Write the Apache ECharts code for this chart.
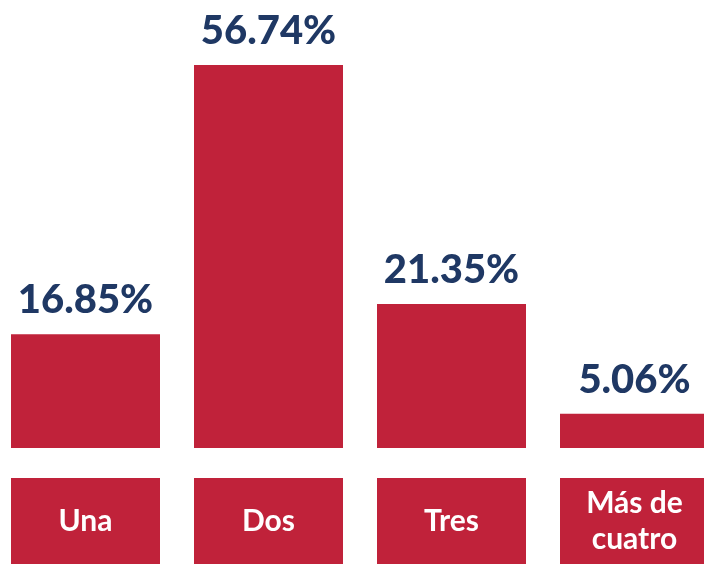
<!DOCTYPE html>
<html>
<head>
<meta charset="utf-8">
<script src="https://cdn.jsdelivr.net/npm/echarts@6/dist/echarts.min.js"></script>
<style>
  html, body { margin: 0; padding: 0; background: #fff; }
  #chart { width: 704px; height: 564px; }
</style>
</head>
<body>
<div id="chart"></div>
<script>
// data
var categories = ['Una', 'Dos', 'Tres', 'Más de\ncuatro'];
var shares = [16.85, 56.74, 21.35, 5.06];

var red = '#C0223A';
var navy = '#1F3864';

var myChart = echarts.init(document.getElementById('chart'));

var option = {
    animation: false,
    grid: {
        left: -6, width: 732, top: 43, bottom: 116,
        containLabel: false,
        outerBoundsMode: 'none'
    },
    xAxis: {
        type: 'category',
        data: categories,
        axisLine: { show: false },
        axisTick: { show: false },
        // red boxes under the bars are the axis labels themselves
        axisLabel: {
            interval: 0,
            margin: 73,
            verticalAlign: 'middle',
            align: 'center',
            width: 149,
            height: 86,
            backgroundColor: red,
            color: '#fff',
            fontFamily: 'Lato',
            fontWeight: 'bold',
            fontSize: 30,
            lineHeight: 36
        }
    },
    yAxis: { type: 'value', min: 0, max: 60, show: false, splitLine: { show: false } },
    series: [{
        type: 'bar',
        data: shares,
        barWidth: 149,
        itemStyle: { color: red },
        label: {
            show: true,
            position: 'top',
            distance: 14,
            color: navy,
            fontFamily: 'Lato',
            fontWeight: 900,
            fontSize: 40,
            formatter: function (p) { return p.value.toFixed(2) + '%'; }
        }
    }]
};

myChart.setOption(option);
</script>
</body>
</html>
